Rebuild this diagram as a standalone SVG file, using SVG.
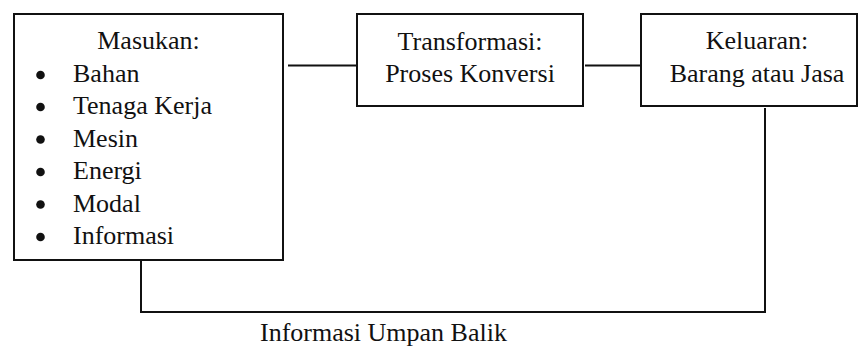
<svg xmlns="http://www.w3.org/2000/svg" width="859" height="347" viewBox="0 0 859 347">
  <style>
    .box { fill: #ffffff; stroke: #111111; stroke-width: 2; }
    .link { fill: none; stroke: #111111; stroke-width: 2; }
    .mid { text-anchor: middle; }
    .dot { fill: #111111; }
  </style>
  <rect width="859" height="347" fill="#ffffff"/>

  <!-- flow lines and feedback loop -->
  <g id="connectors">
    <line class="link" x1="288" y1="65.5" x2="357" y2="65.5"/>
    <line class="link" x1="585" y1="65.5" x2="641" y2="65.5"/>
    <polyline class="link" points="765,108 765,312 141,312 141,261"/>
  </g>

  <g font-family="'Liberation Serif', 'Times New Roman', Times, serif" font-size="26" fill="#111111">
    <!-- input node -->
    <g id="masukan">
      <rect class="box" x="14" y="14" width="269" height="246"/>
      <text class="mid" x="148.5" y="49">Masukan:</text>
      <circle class="dot" cx="40.5" cy="75" r="4.3"/>
      <text x="73" y="82">Bahan</text>
      <circle class="dot" cx="40.5" cy="107" r="4.3"/>
      <text x="73" y="114">Tenaga Kerja</text>
      <circle class="dot" cx="40.5" cy="139.5" r="4.3"/>
      <text x="73" y="146.5">Mesin</text>
      <circle class="dot" cx="40.5" cy="172" r="4.3"/>
      <text x="73" y="179">Energi</text>
      <circle class="dot" cx="40.5" cy="204.5" r="4.3"/>
      <text x="73" y="211.5">Modal</text>
      <circle class="dot" cx="40.5" cy="237" r="4.3"/>
      <text x="73" y="244">Informasi</text>
    </g>

    <!-- transformation node -->
    <g id="transformasi">
      <rect class="box" x="357" y="14" width="226" height="92"/>
      <text class="mid" x="470" y="50">Transformasi:</text>
      <text class="mid" x="470" y="82">Proses Konversi</text>
    </g>

    <!-- output node -->
    <g id="keluaran">
      <rect class="box" x="641" y="14" width="216" height="92"/>
      <text class="mid" x="757" y="49">Keluaran:</text>
      <text class="mid" x="757" y="82">Barang atau Jasa</text>
    </g>

    <!-- feedback label -->
    <g id="umpan-balik">
      <text x="260" y="341">Informasi Umpan Balik</text>
    </g>
  </g>
</svg>
